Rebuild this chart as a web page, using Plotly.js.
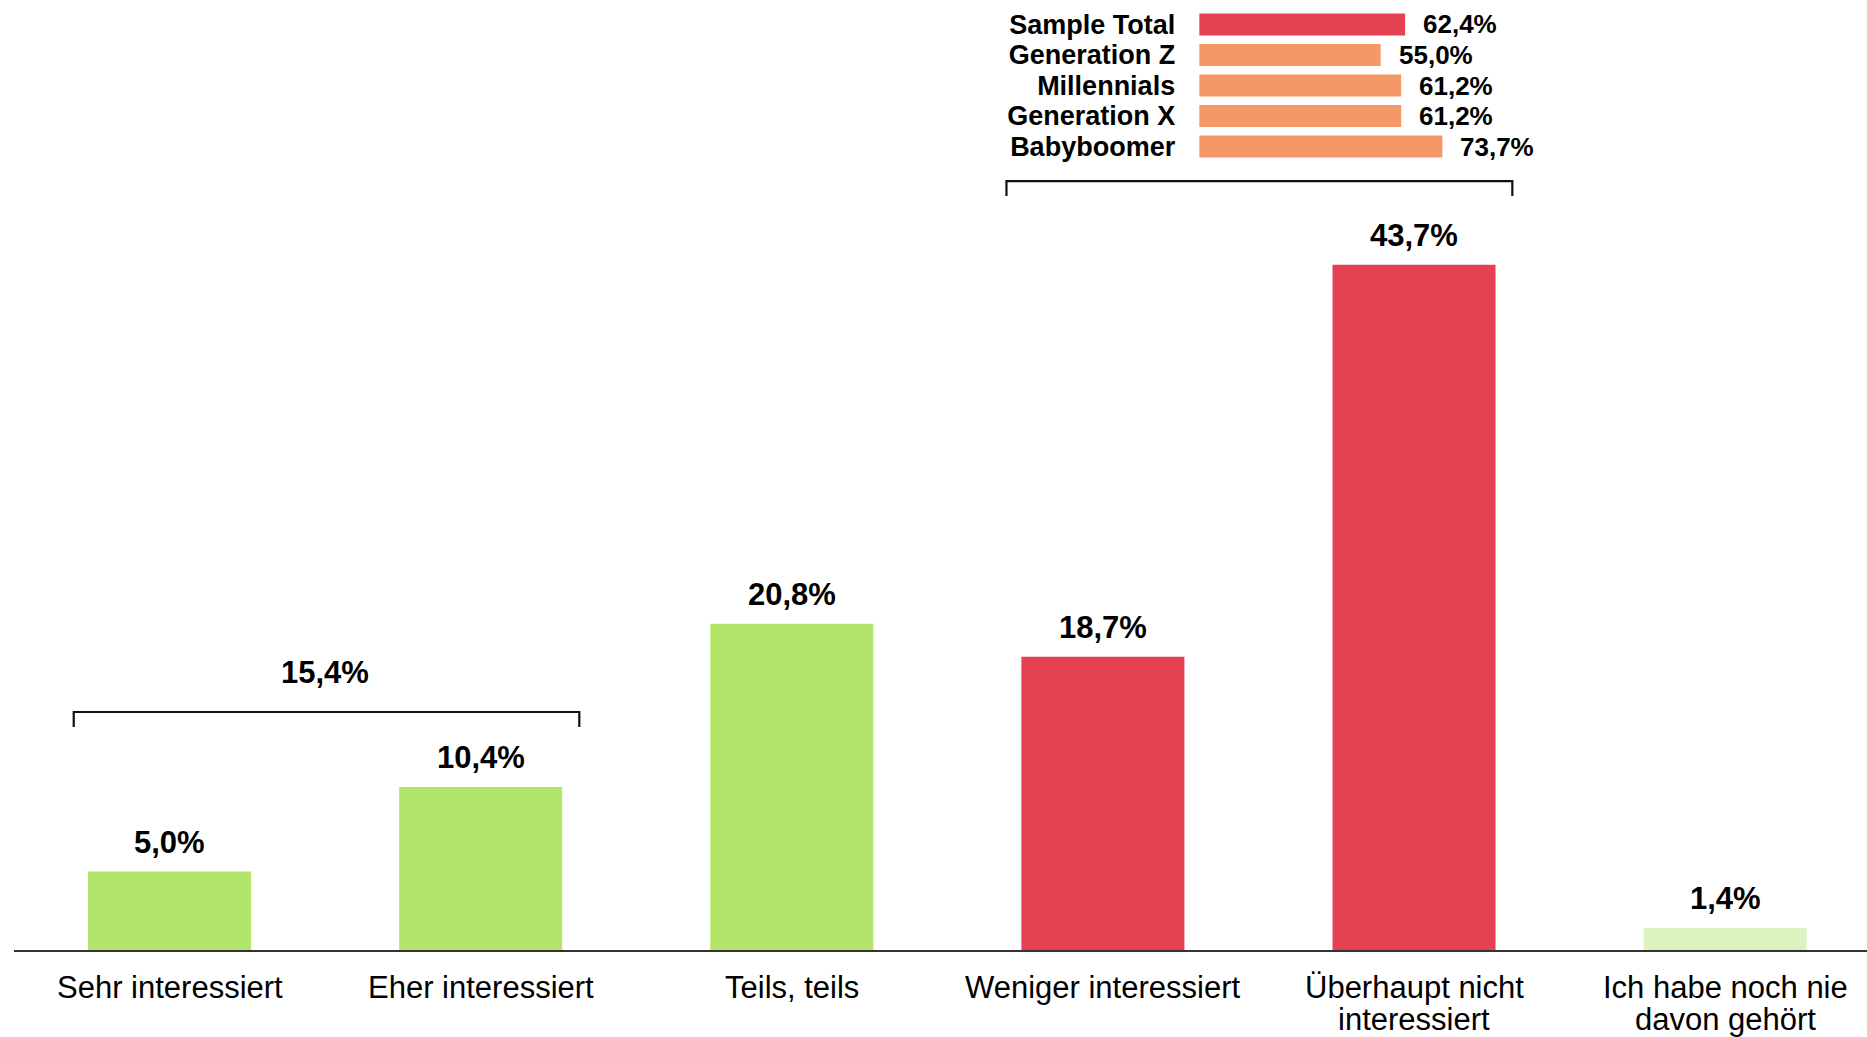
<!DOCTYPE html>
<html>
<head>
<meta charset="utf-8">
<script src="https://cdn.plot.ly/plotly-3.0.1.min.js"></script>
<style>html,body{margin:0;padding:0;background:#fff;}#chart{width:1867px;height:1037px;}</style>
</head>
<body>
<div id="chart"></div>
<script>
// ---- data ----
const categories = ['Sehr interessiert','Eher interessiert','Teils, teils','Weniger interessiert','Überhaupt nicht<br>interessiert','Ich habe noch nie<br>davon gehört'];
const values = [5.0, 10.4, 20.8, 18.7, 43.7, 1.4];
const barColors = ['#b2e56a','#b2e56a','#b2e56a','#e64152','#e64152','#dcf3c0'];

const groups = ['Sample Total','Generation Z','Millennials','Generation X','Babyboomer'];
const groupValues = [62.4, 55.0, 61.2, 61.2, 73.7];
const groupColors = ['#e64152','#f59868','#f59868','#f59868','#f59868'];

const leftBracketLabel = 15.4; // Sehr + Eher interessiert

// ---- helpers ----
const fmt = v => v.toFixed(1).replace('.', ',') + '%';
const FONT = 'Liberation Sans, Arial, sans-serif';

const xIdx = categories.map((c, i) => i);

const mainBar = {
  type: 'bar', x: xIdx, y: values,
  marker: {color: barColors, line: {width: 0}},
  width: 0.524, hoverinfo: 'skip', xaxis: 'x', yaxis: 'y'
};
const insetBar = {
  type: 'bar', orientation: 'h', x: groupValues, y: groups,
  marker: {color: groupColors, line: {width: 0}},
  width: 0.72, hoverinfo: 'skip', xaxis: 'x2', yaxis: 'y2'
};

const annotations = [];
// value labels on bars
values.forEach((v, i) => annotations.push({
  x: i, y: v, xref: 'x', yref: 'y', text: fmt(v), showarrow: false,
  yanchor: 'bottom', yshift: 10, font: {family: FONT, size: 31, color: '#000', weight: 'bold'}
}));
// category labels (two lines with tight spacing)
categories.forEach((c, i) => c.split('<br>').forEach((line, k) => annotations.push({
  x: i, y: 0, xref: 'x', yref: 'y', text: line, showarrow: false,
  yanchor: 'top', yshift: -18 - 32 * k, font: {family: FONT, size: 31, color: '#000'}
})));
// inset value labels
groupValues.forEach((v, i) => annotations.push({
  x: v, y: groups[i], xref: 'x2', yref: 'y2', text: fmt(v), showarrow: false,
  xanchor: 'left', xshift: 16, font: {family: FONT, size: 26, color: '#000', weight: 'bold'}
}));
// bracket label
const lbY = 15.18, rbY = 49.04, arm = 0.95;
annotations.push({
  x: 0.5, y: lbY, xref: 'x', yref: 'y', text: fmt(leftBracketLabel), showarrow: false,
  yanchor: 'bottom', yshift: 20, font: {family: FONT, size: 31, color: '#000', weight: 'bold'}
});

const bracket = (x0, x1, y) => ({
  type: 'path', xref: 'x', yref: 'y',
  path: `M ${x0},${y - arm} L ${x0},${y} L ${x1},${y} L ${x1},${y - arm}`,
  line: {color: '#111', width: 2.2}
});

const layout = {
  width: 1867, height: 1037,
  margin: {l: 14, r: 0, t: 0, b: 87},
  paper_bgcolor: '#fff', plot_bgcolor: 'rgba(0,0,0,0)',
  showlegend: false,
  font: {family: FONT, color: '#000'},
  xaxis: {range: [-0.5, 5.456], showticklabels: false, ticks: '', showgrid: false, zeroline: false,
          showline: true, linecolor: '#333', linewidth: 1.5, fixedrange: true},
  yaxis: {range: [0, 60.59], visible: false, showgrid: false, zeroline: false, fixedrange: true},
  xaxis2: {domain: [0.6396, 0.8177], range: [0, 100], visible: false, anchor: 'y2', fixedrange: true},
  yaxis2: {domain: [0.8278, 0.9922], anchor: 'x2', type: 'category', autorange: 'reversed',
           tickmode: 'array', tickvals: groups, ticktext: groups,
           showgrid: false, zeroline: false, showline: false, ticks: '', ticklabelstandoff: 23,
           tickfont: {family: FONT, size: 27, color: '#000', weight: 'bold'}, fixedrange: true},
  shapes: [bracket(-0.308, 1.317, lbY), bracket(2.69, 4.316, rbY)],
  annotations: annotations
};

Plotly.newPlot('chart', [mainBar, insetBar], layout, {displayModeBar: false, staticPlot: true});
</script>
</body>
</html>
